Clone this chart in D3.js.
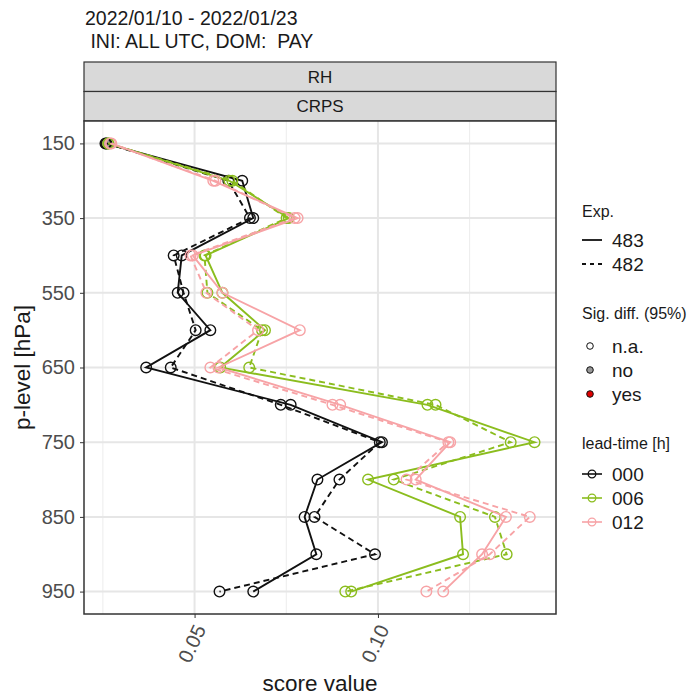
<!DOCTYPE html>
<html>
<head>
<meta charset="utf-8">
<script src="https://cdn.jsdelivr.net/npm/d3@7"></script>
<style>
  body { margin: 0; background: #fff; }
  svg { display: block; font-family: "Liberation Sans", Arial, sans-serif; }
</style>
</head>
<body>
<svg id="chart" width="693" height="696"></svg>
<script>
// Pressure levels (discrete axis, top to bottom) and the ones that get a label
const levels = ["150", "250", "350", "450", "550", "600", "650", "700", "750", "800", "850", "900", "950"];
const levelLabels = ["150", "350", "550", "650", "750", "850", "950"];

// CRPS of relative humidity per level, experiment x lead-time
const exp483_000 = [0.0257, 0.0630, 0.0660, 0.0465, 0.0454, 0.0543, 0.0368, 0.0762, 0.1011, 0.0835, 0.0800, 0.0832, 0.0660];
const exp482_000 = [0.0260, 0.0592, 0.0651, 0.0443, 0.0470, 0.0503, 0.0435, 0.0735, 0.1005, 0.0895, 0.0827, 0.0992, 0.0568];
const exp483_006 = [0.0265, 0.0595, 0.0757, 0.0530, 0.0576, 0.0692, 0.0570, 0.1135, 0.1427, 0.0973, 0.1224, 0.1232, 0.0927];
const exp482_006 = [0.0265, 0.0603, 0.0751, 0.0527, 0.0535, 0.0684, 0.0649, 0.1157, 0.1362, 0.1043, 0.1319, 0.1351, 0.0911];
const exp483_012 = [0.0273, 0.0551, 0.0781, 0.0495, 0.0576, 0.0787, 0.0565, 0.0897, 0.1197, 0.1103, 0.1349, 0.1284, 0.1178];
const exp482_012 = [0.0270, 0.0557, 0.0773, 0.0489, 0.0532, 0.0673, 0.0543, 0.0876, 0.1192, 0.1078, 0.1414, 0.1305, 0.1132];

// Significance flag per point ("na", "no", "yes")
const sig483_000 = ["no", "na", "na", "na", "na", "na", "na", "na", "na", "na", "na", "na", "na"];

const expNames = ["483", "482"];
const leadTimes = ["000", "006", "012"];
const sigLevels = ["n.a.", "no", "yes"];
const xTicksMajor = [0.05, 0.10];
const xTicksMinor = [0.025, 0.075, 0.125];

const series = [
  { exp: "483", lead: "000", values: exp483_000, sig: sig483_000 },
  { exp: "482", lead: "000", values: exp482_000 },
  { exp: "483", lead: "006", values: exp483_006 },
  { exp: "482", lead: "006", values: exp482_006 },
  { exp: "483", lead: "012", values: exp483_012 },
  { exp: "482", lead: "012", values: exp482_012 }
];

const leadColor = d3.scaleOrdinal().domain(leadTimes).range(["#111111", "#8bbd1e", "#f7a3a6"]);
const expDash = d3.scaleOrdinal().domain(expNames).range(["none", "6,4"]);
const sigFill = d3.scaleOrdinal().domain(["na", "no", "yes"]).range(["none", "#999999", "#e00000"]);

const svg = d3.select("#chart");
const panel = { left: 84, right: 556, top: 121, bottom: 614 };

// x domain: data range with 5% expansion on each side
const allVals = series.flatMap(s => s.values);
const [vmin, vmax] = d3.extent(allVals);
const pad = (vmax - vmin) * 0.05;
const x = d3.scaleLinear().domain([vmin - pad, vmax + pad]).range([panel.left, panel.right]);
const y = d3.scalePoint().domain(levels).range([panel.top, panel.bottom]).padding(0.6);

// Titles
svg.append("text").attr("x", 85).attr("y", 25).attr("font-size", 19.5).attr("fill", "#1a1a1a")
  .text("2022/01/10 - 2022/01/23");
svg.append("text").attr("x", 85).attr("y", 48).attr("font-size", 19.5).attr("fill", "#1a1a1a")
  .attr("xml:space", "preserve").text(" INI: ALL UTC, DOM:  PAY");

// Facet strips
const strips = ["RH", "CRPS"];
const stripTop = 62, stripH = 29.5;
strips.forEach((s, i) => {
  const yy = stripTop + i * stripH;
  svg.append("rect").attr("x", panel.left).attr("y", yy).attr("width", panel.right - panel.left)
    .attr("height", stripH).attr("fill", "#d9d9d9").attr("stroke", "#333").attr("stroke-width", 1.2);
  svg.append("text").attr("x", (panel.left + panel.right) / 2).attr("y", yy + stripH / 2 + 6)
    .attr("text-anchor", "middle").attr("font-size", 17).attr("fill", "#1a1a1a").text(s);
});

// Panel background and grid
const g = svg.append("g");
g.append("rect").attr("x", panel.left).attr("y", panel.top).attr("width", panel.right - panel.left)
  .attr("height", panel.bottom - panel.top).attr("fill", "#fff");
g.selectAll(".minor").data(xTicksMinor).join("line")
  .attr("x1", d => x(d)).attr("x2", d => x(d)).attr("y1", panel.top).attr("y2", panel.bottom)
  .attr("stroke", "#ececec").attr("stroke-width", 1);
g.selectAll(".majorx").data(xTicksMajor).join("line")
  .attr("x1", d => x(d)).attr("x2", d => x(d)).attr("y1", panel.top).attr("y2", panel.bottom)
  .attr("stroke", "#e6e6e6").attr("stroke-width", 2);
g.selectAll(".majory").data(levelLabels).join("line")
  .attr("x1", panel.left).attr("x2", panel.right).attr("y1", d => y(d)).attr("y2", d => y(d))
  .attr("stroke", "#e6e6e6").attr("stroke-width", 2);

// Lines and points
const line = d3.line().x(d => x(d.v)).y(d => y(d.lev));
series.forEach(s => {
  const pts = s.values.map((v, i) => ({ v, lev: levels[i], sig: s.sig ? s.sig[i] : "na" }));
  g.append("path").datum(pts).attr("d", line).attr("fill", "none")
    .attr("stroke", leadColor(s.lead)).attr("stroke-width", 1.9)
    .attr("stroke-dasharray", expDash(s.exp));
  g.selectAll(null).data(pts).join("circle")
    .attr("cx", d => x(d.v)).attr("cy", d => y(d.lev)).attr("r", 5.3)
    .attr("fill", d => sigFill(d.sig)).attr("stroke", leadColor(s.lead)).attr("stroke-width", 1.4);
});

// Panel border
svg.append("rect").attr("x", panel.left).attr("y", panel.top).attr("width", panel.right - panel.left)
  .attr("height", panel.bottom - panel.top).attr("fill", "none").attr("stroke", "#333").attr("stroke-width", 1.5);

// Axes
const yAxis = svg.append("g").attr("transform", `translate(${panel.left},0)`)
  .call(d3.axisLeft(y).tickValues(levelLabels).tickSize(4).tickPadding(5));
yAxis.select(".domain").remove();
yAxis.selectAll("line").attr("stroke", "#333");
yAxis.selectAll("text").attr("font-size", 20).attr("fill", "#4d4d4d")
  .attr("font-family", "Liberation Sans, Arial, sans-serif");

const xAxis = svg.append("g").attr("transform", `translate(0,${panel.bottom})`)
  .call(d3.axisBottom(x).tickValues(xTicksMajor).tickFormat(d3.format(".2f")).tickSize(4));
xAxis.select(".domain").remove();
xAxis.selectAll("line").attr("stroke", "#333");
xAxis.selectAll("text").attr("font-size", 20).attr("fill", "#4d4d4d")
  .attr("font-family", "Liberation Sans, Arial, sans-serif")
  .attr("text-anchor", "end").attr("dy", "0.35em")
  .attr("transform", "translate(5,12) rotate(-65)").attr("x", 0).attr("y", 0);

svg.append("text").attr("x", (panel.left + panel.right) / 2).attr("y", 691)
  .attr("text-anchor", "middle").attr("font-size", 22.5).attr("fill", "#1a1a1a").text("score value");
svg.append("text").attr("transform", `translate(30,${(panel.top + panel.bottom) / 2}) rotate(-90)`)
  .attr("text-anchor", "middle").attr("font-size", 22.5).attr("fill", "#1a1a1a").text("p-level [hPa]");

// Legends
const lg = svg.append("g");
const lx = 582;
function legendTitle(t, yy) {
  lg.append("text").attr("x", lx).attr("y", yy + 6).attr("font-size", 16).attr("fill", "#1a1a1a").text(t);
}
function legendLabel(t, yy) {
  lg.append("text").attr("x", 612).attr("y", yy + 7).attr("font-size", 19).attr("fill", "#1a1a1a").text(t);
}

legendTitle("Exp.", 211);
expNames.forEach((e, i) => {
  const yy = 240 + i * 24;
  lg.append("line").attr("x1", 582).attr("x2", 602).attr("y1", yy).attr("y2", yy)
    .attr("stroke", "#111").attr("stroke-width", 1.8).attr("stroke-dasharray", i ? "4,4" : "none");
  legendLabel(e, yy);
});

legendTitle("Sig. diff. (95%)", 313);
const sigKeyFill = ["#ffffff", "#999999", "#e00000"];
sigLevels.forEach((s, i) => {
  const yy = 346 + i * 24;
  lg.append("circle").attr("cx", 590).attr("cy", yy).attr("r", 3.3)
    .attr("fill", sigKeyFill[i]).attr("stroke", "#111").attr("stroke-width", 1);
  legendLabel(s, yy);
});

legendTitle("lead-time [h]", 443);
leadTimes.forEach((l, i) => {
  const yy = 474 + i * 24;
  lg.append("line").attr("x1", 582).attr("x2", 602).attr("y1", yy).attr("y2", yy)
    .attr("stroke", leadColor(l)).attr("stroke-width", 1.6);
  lg.append("circle").attr("cx", 592).attr("cy", yy).attr("r", 3.8)
    .attr("fill", "none").attr("stroke", leadColor(l)).attr("stroke-width", 1.3);
  legendLabel(l, yy);
});
</script>
</body>
</html>
